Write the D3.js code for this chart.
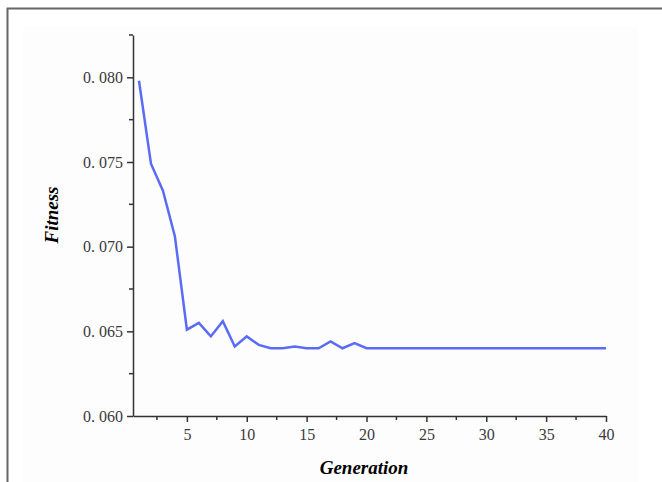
<!DOCTYPE html>
<html>
<head>
<meta charset="utf-8">
<script src="https://cdn.jsdelivr.net/npm/d3@7"></script>
<style>
  body { margin: 0; background: #fff; }
  svg { display: block; }
</style>
</head>
<body>
<div id="chart"></div>
<script>
// data
const generations = d3.range(1, 41);
const fitness = [
  0.0798, 0.0749, 0.0733, 0.0706, 0.0651, 0.0655, 0.0647, 0.0656, 0.0641, 0.0647,
  0.0642, 0.0640, 0.0640, 0.0641, 0.0640, 0.0640, 0.0644, 0.0640, 0.0643, 0.0640,
  0.0640, 0.0640, 0.0640, 0.0640, 0.0640, 0.0640, 0.0640, 0.0640, 0.0640, 0.0640,
  0.0640, 0.0640, 0.0640, 0.0640, 0.0640, 0.0640, 0.0640, 0.0640, 0.0640, 0.0640
];
const xTicks = [5, 10, 15, 20, 25, 30, 35, 40];
const xMinorTicks = [2.5, 7.5, 12.5, 17.5, 22.5, 27.5, 32.5, 37.5];
const yTicks = [0.060, 0.065, 0.070, 0.075, 0.080];
const yMinorTicks = [0.0625, 0.0675, 0.0725, 0.0775, 0.0825];

const W = 662, H = 482;
const margin = { top: 35, right: 56, bottom: 66, left: 133 };
const width = W - margin.left - margin.right;
const height = H - margin.top - margin.bottom;

const root = d3.select("#chart").append("svg")
    .attr("width", W)
    .attr("height", H);

// outer frame (top + left edges) and faint panel
root.append("rect")
    .attr("x", 23).attr("y", 27)
    .attr("width", 615).attr("height", H - 27)
    .attr("fill", "#fdfdfd");
root.append("path")
    .attr("d", `M7.5,${H} V8.5 H${W}`)
    .attr("fill", "none")
    .attr("stroke", "#666")
    .attr("stroke-width", 2);

const svg = root.append("g")
    .attr("transform", `translate(${margin.left},${margin.top})`);

const x = d3.scaleLinear().domain([0.5, 40]).range([0, width]);
const y = d3.scaleLinear().domain([0.060, 0.0825]).range([height, 0]);

const axisColor = "#333";
const tickFont = "'Liberation Serif', 'DejaVu Serif', serif";

// x axis
const gx = svg.append("g")
    .attr("transform", `translate(0,${height})`)
    .call(d3.axisBottom(x).tickValues(xTicks).tickSize(6).tickPadding(7)
        .tickSizeOuter(0).tickFormat(d3.format("d")));
gx.append("g").selectAll("line")
    .data(xMinorTicks)
    .enter().append("line")
    .attr("x1", d => x(d)).attr("x2", d => x(d))
    .attr("y1", 0).attr("y2", 4)
    .attr("stroke", axisColor).attr("stroke-width", 1.5);

// y axis
const gy = svg.append("g")
    .call(d3.axisLeft(y).tickValues(yTicks).tickSize(6).tickPadding(4)
        .tickSizeOuter(0).tickFormat(d => d3.format(".3f")(d).replace(".", ". ")));
gy.append("g").selectAll("line")
    .data(yMinorTicks)
    .enter().append("line")
    .attr("y1", d => y(d)).attr("y2", d => y(d))
    .attr("x1", 0).attr("x2", -4)
    .attr("stroke", axisColor).attr("stroke-width", 1.5);

[gx, gy].forEach(g => {
    g.select(".domain").attr("stroke", axisColor).attr("stroke-width", 1.5);
    g.selectAll(".tick line").attr("stroke", axisColor).attr("stroke-width", 1.5);
    g.selectAll(".tick text")
        .attr("fill", "#3a3a3a")
        .style("font-family", tickFont)
        .style("font-size", "16px");
});

// line
const line = d3.line()
    .x((d, i) => x(generations[i]))
    .y(d => y(d));

svg.append("path")
    .datum(fitness)
    .attr("fill", "none")
    .attr("stroke", "#5a6cf5")
    .attr("stroke-width", 2.5)
    .attr("stroke-linejoin", "miter")
    .attr("d", line);

// axis titles
root.append("text")
    .attr("x", 364).attr("y", 474)
    .attr("text-anchor", "middle")
    .style("font-family", "'Liberation Serif', serif")
    .style("font-weight", "bold")
    .style("font-style", "italic")
    .style("font-size", "19px")
    .text("Generation");

root.append("text")
    .attr("transform", "translate(58,215) rotate(-90)")
    .attr("text-anchor", "middle")
    .style("font-family", "'Liberation Serif', serif")
    .style("font-weight", "bold")
    .style("font-style", "italic")
    .style("font-size", "19px")
    .text("Fitness");
</script>
</body>
</html>
